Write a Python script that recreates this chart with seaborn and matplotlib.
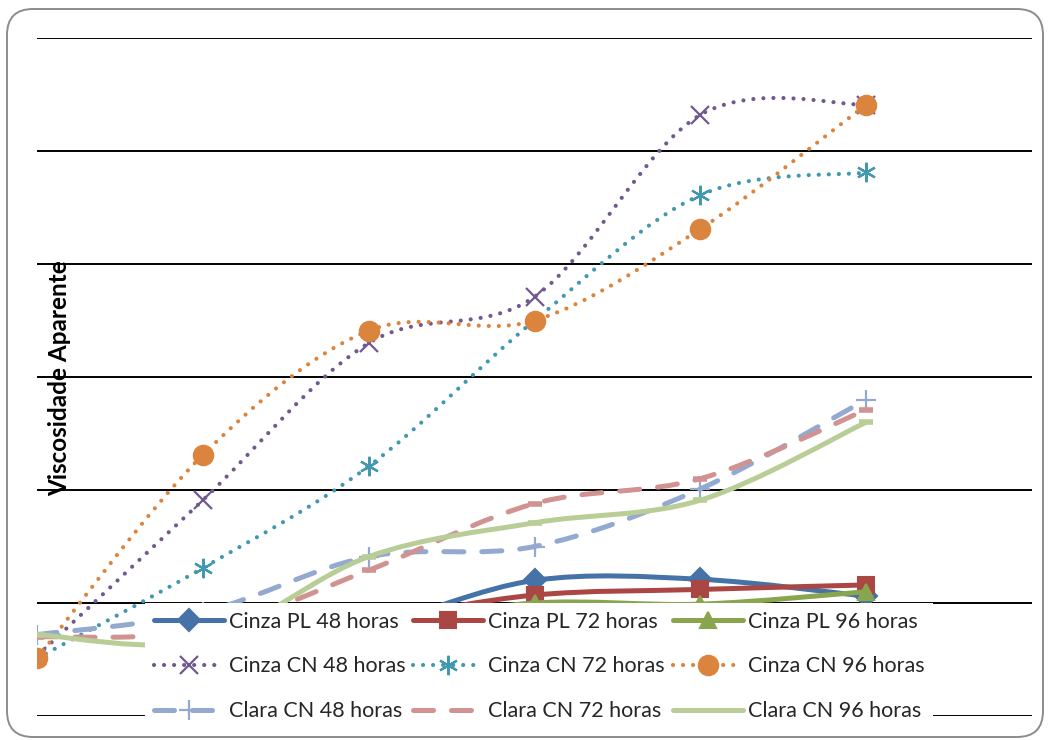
import matplotlib
matplotlib.use("Agg")
import matplotlib.pyplot as plt
import numpy as np
import seaborn as sns
from matplotlib.lines import Line2D
from matplotlib.patches import FancyBboxPatch, PathPatch
from matplotlib.path import Path

# sample positions along the x axis (no category labels are shown)
sample_idx = [0, 1, 2, 3, 4, 5]

# the PL series have no visible first point (hidden / blank in the source)
cinza_pl_48 = [np.nan, 0.62, 0.80, 1.20, 1.21, 1.06]
cinza_pl_72 = [np.nan, 0.70, 0.85, 1.07, 1.12, 1.16]
cinza_pl_96 = [np.nan, 0.66, 0.80, 1.00, 0.99, 1.10]
cinza_cn_48 = [0.53, 1.91, 3.30, 3.71, 5.32, 5.41]
cinza_cn_72 = [0.51, 1.31, 2.21, 3.50, 4.61, 4.81]
cinza_cn_96 = [0.51, 2.31, 3.41, 3.50, 4.31, 5.41]
clara_cn_48 = [0.72, 0.92, 1.41, 1.50, 2.01, 2.80]
clara_cn_72 = [0.70, 0.76, 1.29, 1.88, 2.10, 2.71]
clara_cn_96 = [0.72, 0.67, 1.41, 1.71, 1.91, 2.60]

labels = [
    "Cinza PL 48 horas", "Cinza PL 72 horas", "Cinza PL 96 horas",
    "Cinza CN 48 horas", "Cinza CN 72 horas", "Cinza CN 96 horas",
    "Clara CN 48 horas", "Clara CN 72 horas", "Clara CN 96 horas",
]
series = [cinza_pl_48, cinza_pl_72, cinza_pl_96,
          cinza_cn_48, cinza_cn_72, cinza_cn_96,
          clara_cn_48, clara_cn_72, clara_cn_96]

colors = ["#4572A7", "#AA4643", "#89A54E", "#71588F", "#4198AF",
          "#DB843D", "#93A9CF", "#D19392", "#B9CD96"]
markers = ["D", "s", "^", "x", (6, 2, 0), "o", "+", "_", "_"]
marker_sizes = [11, 11, 12, 13, 14, 14, 14, 10, 10]
dotted = (0, (0.01, 2.4))
dashed = (0, (4, 3.6))
line_styles = ["-", "-", "-", dotted, dotted, dotted, dashed, dashed, "-"]
line_widths = [3.6, 3.6, 3.6, 3.0, 3.0, 3.0, 3.6, 3.6, 3.6]


def smooth_path(xs, ys):
    # Excel-style smoothed line: cubic Bezier through the data points
    pts = np.column_stack([xs, ys]).astype(float)
    pts = pts[~np.isnan(pts[:, 1])]
    n = len(pts)
    verts = [pts[0]]
    codes = [Path.MOVETO]
    for i in range(n - 1):
        p0 = pts[max(i - 1, 0)]
        p1 = pts[i]
        p2 = pts[i + 1]
        p3 = pts[min(i + 2, n - 1)]
        verts += [p1 + (p2 - p0) / 6, p2 - (p3 - p1) / 6, p2]
        codes += [Path.CURVE4] * 3
    return Path(verts, codes)


sns.set_theme(style="white")
plt.rcParams["font.family"] = ["Lato", "DejaVu Sans"]

fig = plt.figure(figsize=(10.5, 7.4), dpi=100)
ax = fig.add_axes([37 / 1050, 24 / 740, 995 / 1050, 678 / 740])

handles = []
for i, (vals, lab) in enumerate(zip(series, labels)):
    patch = PathPatch(smooth_path(sample_idx, vals), fill=False, edgecolor=colors[i],
                      linewidth=line_widths[i], linestyle=line_styles[i],
                      capstyle="round", joinstyle="round", zorder=2 + i * 0.1)
    ax.add_patch(patch)
    filled = markers[i] in ("D", "s", "^", "o")
    ax.plot(sample_idx, vals, linestyle="none", marker=markers[i],
            markersize=marker_sizes[i], color=colors[i],
            markeredgewidth=1.5 if filled else (4 if markers[i] == "_" else 1.6),
            zorder=2.05 + i * 0.1)
    handles.append(Line2D([], [], color=colors[i], linewidth=line_widths[i],
                          linestyle=line_styles[i], dash_capstyle="round",
                          solid_capstyle="round", marker=markers[i] if markers[i] != "_" else None,
                          markersize=marker_sizes[i],
                          markeredgewidth=1.5 if filled else 1.6, label=lab))

ax.set_xlim(0, 6)
ax.set_ylim(0, 6)
ax.set_yticks(range(7))
ax.set_xticks([])
ax.tick_params(axis="y", length=0, labelleft=False)
ax.grid(axis="y", color="black", linewidth=1.4)
ax.grid(axis="x", visible=False)
for spine in ax.spines.values():
    spine.set_visible(False)
ax.set_facecolor("none")

ax.text(0.023, 0.498, "Viscosidade Aparente", transform=ax.transAxes, rotation=90,
        ha="center", va="center", fontsize=17.5, fontweight="bold", color="black")

# Excel fills the legend row by row; matplotlib goes column by column
order = [0, 3, 6, 1, 4, 7, 2, 5, 8]
leg = fig.legend([handles[k] for k in order], [labels[k] for k in order],
                 loc="upper left", bbox_to_anchor=(145 / 1050, 1 - 603 / 740),
                 ncol=3, frameon=True, fancybox=False, framealpha=1,
                 facecolor="white", edgecolor="none", fontsize=15.5,
                 handlelength=3.25, handletextpad=0.25, columnspacing=0.35,
                 labelspacing=1.15, borderpad=0.4, borderaxespad=0)
leg.set_zorder(10)

fig.patches.append(FancyBboxPatch((7, 3), 1036, 728, boxstyle="round,pad=0,rounding_size=26",
                                  transform=None, facecolor="none", edgecolor="#8C8C8C",
                                  linewidth=1.4, zorder=20))

fig.savefig("out.png", dpi=100)
